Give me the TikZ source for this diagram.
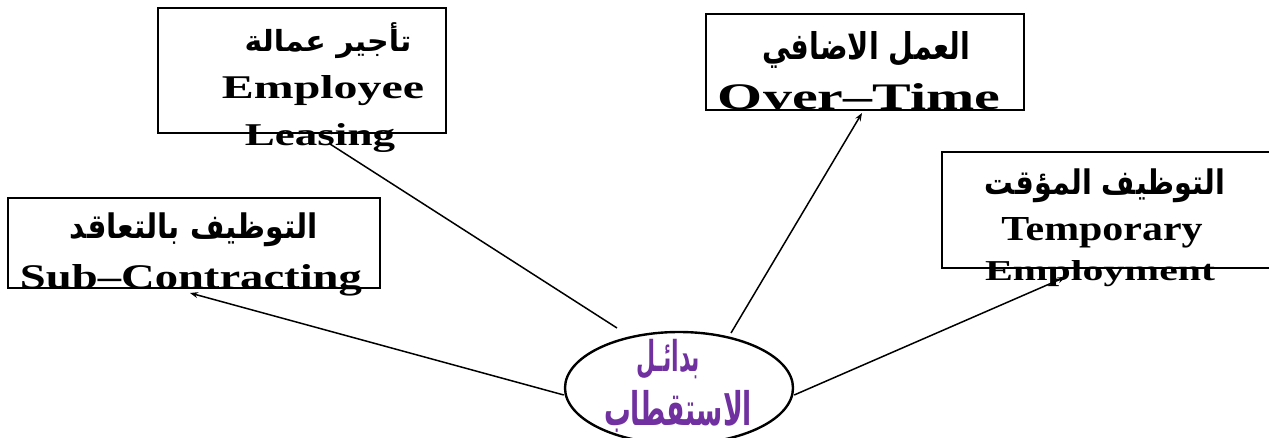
\documentclass[tikz,border=0pt]{standalone}
\usepackage{fontspec}
\usepackage{graphicx}
\usetikzlibrary{arrows.meta,shapes.geometric}
\setmainfont{Liberation Serif}
\newfontfamily\arabicfont[Script=Arabic]{DejaVu Sans}
\TeXXeTstate=1

\begin{document}
\begin{tikzpicture}[x=1pt, y=-1pt]
  % Colors
  \definecolor{blank}{HTML}{ffffff}
  \definecolor{outline}{HTML}{000000}
  \definecolor{title}{HTML}{7030A0}

  % Configurations
  \tikzset{
    box/.style n args={2}{draw=outline, line width=2pt, minimum width=#1, minimum height=#2, inner sep=0pt},
    txt/.style={inner sep=0pt},
    link/.style={draw=outline, line width=1.5pt},
    tip/.style={link, -{Stealth[length=8pt, width=6pt]}}
  }

  % Text lines
  \newcommand{\enline}[3]{\resizebox{#1pt}{#2pt}{\bfseries #3}}
  \newcommand{\arline}[3]{\resizebox*{#1pt}{#2pt}{\arabicfont\bfseries #3}}

  % Bounding box
  \useasboundingbox (0,0) rectangle (1269,438);
  \clip [preaction={fill=blank}] (0,0) rectangle (1269,438);

  % Boxes
  \node [box={288pt}{125pt}] (lease) at (302,70.5) {};
  \node [box={318pt}{96pt}] (over) at (865,62) {};
  \node [box={333pt}{116pt}] (temp) at (1108.5,210) {};
  \node [box={372pt}{90pt}] (sub) at (194,243) {};
  \node [ellipse, draw=outline, line width=2.4pt, minimum width=228pt, minimum height=112pt, inner sep=0pt] (core) at (679,388) {};

  % Box texts
  \node [txt] (leaseAr) at (328,41) {\arline{167}{36}{\beginR تأجير عمالة\endR}};
  \node [txt, anchor=base] (leaseEn) at (323,99) {\enline{202}{23}{Employee}};
  \node [txt, anchor=base] (leaseEnB) at (320,146) {\enline{150}{22}{Leasing}};

  \node [txt] (overAr) at (866,50) {\arline{208}{37}{\beginR العمل الاضافي\endR}};
  \node [txt, anchor=base] (overEn) at (859,110) {\enline{282}{26}{Over--Time}};

  \node [txt] (tempAr) at (1105,186) {\arline{240}{34}{\beginR التوظيف المؤقت\endR}};
  \node [txt, anchor=base] (tempEn) at (1102,241) {\enline{201}{23}{Temporary}};
  \node [txt, anchor=base] (tempEnB) at (1100,280) {\enline{230}{20}{Employment}};

  \node [txt] (subAr) at (194,230) {\arline{248}{34}{\beginR التوظيف بالتعاقد\endR}};
  \node [txt, anchor=base] (subEn) at (191,289) {\enline{342}{24}{Sub--Contracting}};

  % Centre text
  \node [txt, text=title] (coreA) at (668,359) {\arline{64}{40}{\beginR بدائـل\endR}};
  \node [txt, text=title] (coreB) at (678,411) {\arline{148}{42}{\beginR الاستقطاب\endR}};

  % Connectors
  \draw [tip] ([shift={(0,7)}]core.west) -- ([shift={(-4,4)}]sub.south);
  \draw [link] ([shift={(-62,-60)}]core.center) -- ([shift={(28,10)}]lease.south);
  \draw [tip] ([shift={(52,-55)}]core.center) -- ([shift={(-3,2)}]over.south);
  \draw [tip] ([shift={(0,7)}]core.east) -- ([shift={(-43,8)}]temp.south);
\end{tikzpicture}
\end{document}
